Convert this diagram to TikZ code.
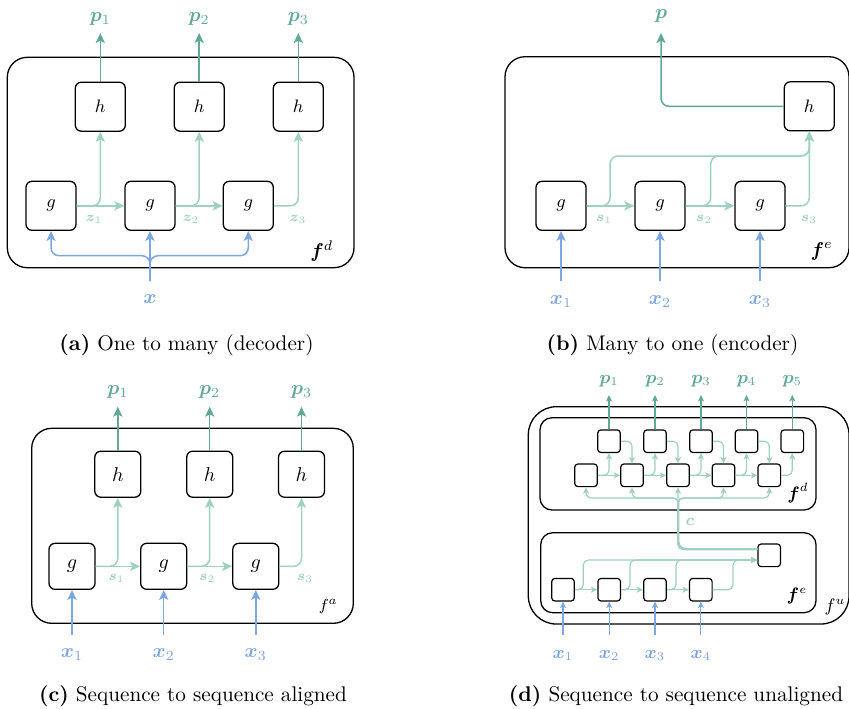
\documentclass[tikz,border=0pt]{standalone}
\usepackage{bm}
\usetikzlibrary{arrows.meta,calc}
\definecolor{dg}{RGB}{98,168,150}
\definecolor{lg}{RGB}{160,208,194}
\definecolor{bl}{RGB}{126,166,224}
\tikzset{
  boxa/.style={draw, line width=0.65pt, rounded corners=3pt, minimum width=25pt, minimum height=24.5pt, inner sep=0pt, font=\small},
  boxc/.style={draw, line width=0.65pt, rounded corners=3pt, minimum size=23pt, inner sep=0pt},
  sbox/.style={draw, line width=0.6pt, rounded corners=1.6pt, minimum size=11.3pt, inner sep=0pt},
  framebox/.style={draw, line width=0.65pt, rounded corners=10pt},
  arrtip/.style={-{Stealth[length=5pt,width=4.6pt,inset=1.2pt]}},
  sarrtip/.style={-{Stealth[length=3.2pt,width=3pt,inset=0.8pt]}},
  darr/.style={draw=dg, line width=0.75pt, arrtip},
  larr/.style={draw=lg, line width=0.75pt, rounded corners=4pt, arrtip},
  barr/.style={draw=bl, line width=0.75pt, rounded corners=4pt, arrtip},
  sdarr/.style={draw=dg, line width=0.6pt, sarrtip},
  slarr/.style={draw=lg, line width=0.6pt, rounded corners=2.5pt, sarrtip},
  sbarr/.style={draw=bl, line width=0.6pt, sarrtip},
  plab/.style={text=dg, inner sep=0pt},
  xlab/.style={text=bl, inner sep=0pt},
  slab/.style={text=lg, inner sep=0pt, font=\scriptsize},
  flab/.style={inner sep=0pt},
  captext/.style={inner sep=0pt, font=\fontsize{10.6}{12}\selectfont}
}
\begin{document}
\begin{tikzpicture}[x=0.5pt,y=-0.5pt]
\useasboundingbox (0,0) rectangle (849,708);

%%%%%%%%%%%%%%%% (a)
\draw[framebox] (7.3,57.3) rectangle (354,267.7);
\foreach \i/\x in {1/100.3,2/199.2,3/298.3} {
  \node[boxa] (ha\i) at (\x,106.7) {$h$};
  \coordinate (ta\i) at (\x,33);
  \node[plab] (pa\i) at (\x,19) {$\bm{p}_{\i}$};
  \draw[darr] (ha\i.north) -- (ta\i);
}
\foreach \i/\x in {1/51,2/150,3/248.3} {
  \node[boxa] (ga\i) at (\x,205.8) {$g$};
}
\draw[larr] (ga1.east) -| (ha1.south);
\draw[larr] (ga2.east) -| (ha2.south);
\draw[larr] (ga3.east) -| (ha3.south);
\draw[larr] (ga1.east) -- (ga2.west);
\draw[larr] (ga2.east) -- (ga3.west);
\node[slab] at (94,219) {$\bm{z}_1$};
\node[slab] at (191,219) {$\bm{z}_2$};
\node[slab] at (298,219) {$\bm{z}_3$};
\coordinate (xa) at (150,281);
\draw[barr] (xa) -- (ga2.south);
\draw[barr] (xa) -- (150,255.7) -| (ga1.south);
\draw[barr] (xa) -- (150,255.7) -| (ga3.south);
\node[xlab] at (150,299) {$\bm{x}$};
\node[flab] at (321.7,251) {$\bm{f}^{d}$};

%%%%%%%%%%%%%%%% (b)
\draw[framebox] (505,56.7) rectangle (849,267.7);
\node[boxa] (hb) at (809.3,106.3) {$h$};
\coordinate (tb) at (661,33);
\node[plab] at (661,16) {$\bm{p}$};
\draw[darr, rounded corners=4pt] (hb.west) -| (tb);
\foreach \i/\x in {1/561,2/660,3/760} {
  \node[boxa] (gb\i) at (\x,205.8) {$g$};
  \coordinate (xb\i) at (\x,281);
  \draw[barr] (xb\i) -- (gb\i.south);
  \node[xlab] at (\x,301.5) {$\bm{x}_{\i}$};
}
\draw[larr] (gb1.east) -- (gb2.west);
\draw[larr] (gb2.east) -- (gb3.west);
\draw[larr] (gb1.east) -| (610,156) -| (hb.south);
\draw[larr] (gb2.east) -| (710.7,156) -| (hb.south);
\draw[larr] (gb3.east) -| (hb.south);
\node[slab] at (604,219) {$\bm{s}_1$};
\node[slab] at (704,219) {$\bm{s}_2$};
\node[slab] at (809,219) {$\bm{s}_3$};
\node[flab] at (821.7,251) {$\bm{f}^{e}$};

%%%%%%%%%%%%%%%% (c)
\draw[framebox] (31.7,428.3) rectangle (353.3,623.3);
\foreach \i/\x in {1/117.8,2/209.7,3/301.5} {
  \node[boxc] (hc\i) at (\x,474.2) {$h$};
  \coordinate (tc\i) at (\x,406.7);
  \node[plab] at (\x,391.5) {$\bm{p}_{\i}$};
  \draw[darr] (hc\i.north) -- (tc\i);
}
\foreach \i/\x in {1/72,2/163.7,3/255.8} {
  \node[boxc] (gc\i) at (\x,566.3) {$g$};
  \coordinate (xc\i) at (\x,635);
  \draw[barr] (xc\i) -- (gc\i.south);
  \node[xlab] at (\x,655) {$\bm{x}_{\i}$};
}
\draw[larr] (gc1.east) -| (hc1.south);
\draw[larr] (gc2.east) -| (hc2.south);
\draw[larr] (gc3.east) -| (hc3.south);
\draw[larr] (gc1.east) -- (gc2.west);
\draw[larr] (gc2.east) -- (gc3.west);
\node[slab] at (116.7,578.5) {$\bm{s}_1$};
\node[slab] at (207.3,578.5) {$\bm{s}_2$};
\node[slab] at (305,578.5) {$\bm{s}_3$};
\node[flab, font=\footnotesize] at (328.3,606) {$f^{a}$};

%%%%%%%%%%%%%%%% (d)
\draw[framebox, rounded corners=14pt] (528.3,406.7) rectangle (849,624);
\draw[framebox, rounded corners=6pt] (540,417.7) rectangle (816,510);
\draw[framebox, rounded corners=6pt] (540.7,532.7) rectangle (816,612.7);
\foreach \i/\x in {1/609,2/655,3/701,4/746.5,5/792.3} {
  \node[sbox] (hd\i) at (\x,441.2) {};
  \coordinate (td\i) at (\x,395);
  \node[plab, font=\small] at (\x,381.5) {$\bm{p}_{\i}$};
  \draw[sdarr] (hd\i.north) -- (td\i);
}
\foreach \i/\x in {1/586,2/632,3/678,4/723.5,5/769.3} {
  \node[sbox] (gd\i) at (\x,475.3) {};
}
\foreach \i in {1,...,5} { \draw[slarr] (gd\i.east) -| (hd\i.south); }
\foreach \i/\j in {1/2,2/3,3/4,4/5} {
  \draw[slarr] (gd\i.east) -- (gd\j.west);
  \draw[slarr] (hd\i.east) -| (gd\j.north);
}
% encoder
\node[sbox] (he) at (769.2,555.3) {};
\foreach \i/\x in {1/563,2/609.2,3/655,4/700.8} {
  \node[sbox] (ge\i) at (\x,589.7) {};
  \coordinate (xd\i) at (\x,635);
  \draw[sbarr] (xd\i) -- (ge\i.south);
  \node[xlab, font=\small] at (\x,655) {$\bm{x}_{\i}$};
}
\foreach \i/\j in {1/2,2/3,3/4} { \draw[slarr] (ge\i.east) -- (ge\j.west); }
\coordinate (hein) at ($(he.west)+(0,4.7)$);
\draw[slarr] (ge1.east) -| (583.3,560) -- (hein);
\draw[slarr] (ge2.east) -| (630,560) -- (hein);
\draw[slarr] (ge3.east) -| (676,560) -- (hein);
\draw[slarr] (ge4.east) -| (733,560) -- (hein);
% context c
\coordinate (cst) at ($(he.west)+(0,-6)$);
\draw[draw=lg, line width=1.1pt, rounded corners=4pt] (cst) -| (678.3,503);
\draw[slarr] (cst) -| (gd3.south);
\foreach \i in {1,2,4,5} { \draw[slarr] (cst) -| (678.3,498) -| (gd\i.south); }
\node[slab, font=\footnotesize] at (690,521.5) {$\bm{c}$};
\node[flab, font=\small] at (798,493) {$\bm{f}^{d}$};
\node[flab, font=\small] at (797,596) {$\bm{f}^{e}$};
\node[flab, font=\small] at (835,607) {$f^{u}$};

%%%%%%%%%%%%%%%% captions
\node[captext] (capa) at (186.5,345) {\textbf{(a)} One to many (decoder)};
\node[captext] (capb) at (672.5,345) {\textbf{(b)} Many to one (encoder)};
\node[captext] (capc) at (193,696) {\textbf{(c)} Sequence to sequence aligned};
\node[captext] (capd) at (676,696) {\textbf{(d)} Sequence to sequence unaligned};
\end{tikzpicture}
\end{document}
